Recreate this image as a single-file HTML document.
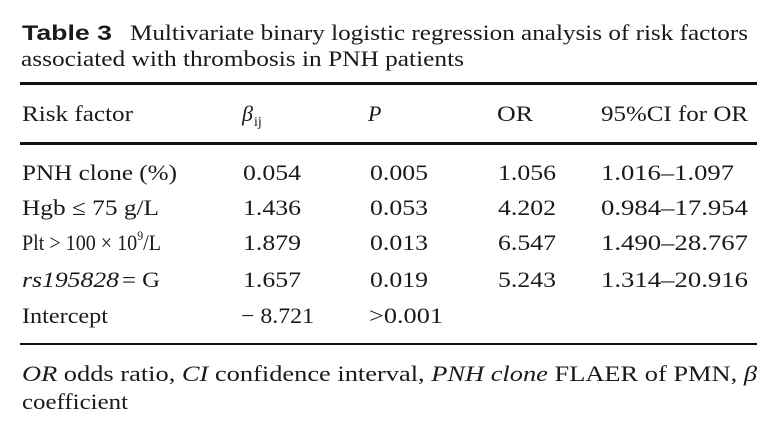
<!DOCTYPE html>
<html><head><meta charset="utf-8"><style>
html,body{margin:0;padding:0;background:#fff;}
svg{display:block;}
text{font-family:"Liberation Serif","Times New Roman",serif;font-size:22px;fill:#1a1a1a;}
.s{font-family:"Liberation Sans",sans-serif;font-weight:bold;font-size:21px;}
.i{font-style:italic;}
</style></head><body>
<svg width="774" height="424" viewBox="0 0 774 424">
<rect width="774" height="424" fill="#fff"/>
<text class="s" x="22" y="40" textLength="90" lengthAdjust="spacingAndGlyphs">Table 3</text>
<text x="130" y="40" textLength="618" lengthAdjust="spacingAndGlyphs">Multivariate binary logistic regression analysis of risk factors</text>
<text x="21" y="66" textLength="443" lengthAdjust="spacingAndGlyphs">associated with thrombosis in PNH patients</text>
<rect x="20" y="82" width="737" height="3" fill="#111"/>
<text x="22" y="121" textLength="111" lengthAdjust="spacingAndGlyphs">Risk factor</text>
<text class="i" x="242" y="121">β</text><text x="254" y="126" style="font-size:14px">ij</text>
<text class="i" x="368" y="121">P</text>
<text x="497" y="121" textLength="36" lengthAdjust="spacingAndGlyphs">OR</text>
<text x="601" y="121" textLength="147" lengthAdjust="spacingAndGlyphs">95%CI for OR</text>
<rect x="20" y="142" width="737" height="3" fill="#111"/>
<g>
<text x="22" y="180" textLength="155" lengthAdjust="spacingAndGlyphs">PNH clone (%)</text>
<text x="243" y="180" textLength="58" lengthAdjust="spacingAndGlyphs">0.054</text>
<text x="370" y="180" textLength="58" lengthAdjust="spacingAndGlyphs">0.005</text>
<text x="498" y="180" textLength="58" lengthAdjust="spacingAndGlyphs">1.056</text>
<text x="601" y="180" textLength="133" lengthAdjust="spacingAndGlyphs">1.016–1.097</text>

<text x="22" y="215" textLength="137" lengthAdjust="spacingAndGlyphs">Hgb ≤ 75 g/L</text>
<text x="243" y="215" textLength="58" lengthAdjust="spacingAndGlyphs">1.436</text>
<text x="370" y="215" textLength="58" lengthAdjust="spacingAndGlyphs">0.053</text>
<text x="498" y="215" textLength="58" lengthAdjust="spacingAndGlyphs">4.202</text>
<text x="601" y="215" textLength="147" lengthAdjust="spacingAndGlyphs">0.984–17.954</text>

<text x="22" y="250" textLength="139" lengthAdjust="spacingAndGlyphs">Plt &gt; 100 × 10<tspan dy="-10" style="font-size:13px">9</tspan><tspan dy="10">/L</tspan></text>
<text x="243" y="250" textLength="58" lengthAdjust="spacingAndGlyphs">1.879</text>
<text x="370" y="250" textLength="58" lengthAdjust="spacingAndGlyphs">0.013</text>
<text x="498" y="250" textLength="58" lengthAdjust="spacingAndGlyphs">6.547</text>
<text x="601" y="250" textLength="147" lengthAdjust="spacingAndGlyphs">1.490–28.767</text>

<text class="i" x="22" y="287" textLength="97" lengthAdjust="spacingAndGlyphs">rs195828</text>
<text x="122" y="287" textLength="38" lengthAdjust="spacingAndGlyphs">= G</text>
<text x="243" y="287" textLength="58" lengthAdjust="spacingAndGlyphs">1.657</text>
<text x="370" y="287" textLength="58" lengthAdjust="spacingAndGlyphs">0.019</text>
<text x="498" y="287" textLength="58" lengthAdjust="spacingAndGlyphs">5.243</text>
<text x="601" y="287" textLength="147" lengthAdjust="spacingAndGlyphs">1.314–20.916</text>

<text x="22" y="323" textLength="86" lengthAdjust="spacingAndGlyphs">Intercept</text>
<text x="241" y="323" textLength="73" lengthAdjust="spacingAndGlyphs">− 8.721</text>
<text x="369" y="323" textLength="74" lengthAdjust="spacingAndGlyphs">&gt;0.001</text>
</g>
<rect x="20" y="343" width="737" height="2" fill="#111"/>
<text x="22" y="381" textLength="735" lengthAdjust="spacingAndGlyphs"><tspan class="i">OR</tspan> odds ratio, <tspan class="i">CI</tspan> confidence interval, <tspan class="i">PNH clone</tspan> FLAER of PMN, <tspan class="i">β</tspan></text>
<text x="22" y="409" textLength="106" lengthAdjust="spacingAndGlyphs">coefficient</text>
</svg>
</body></html>
